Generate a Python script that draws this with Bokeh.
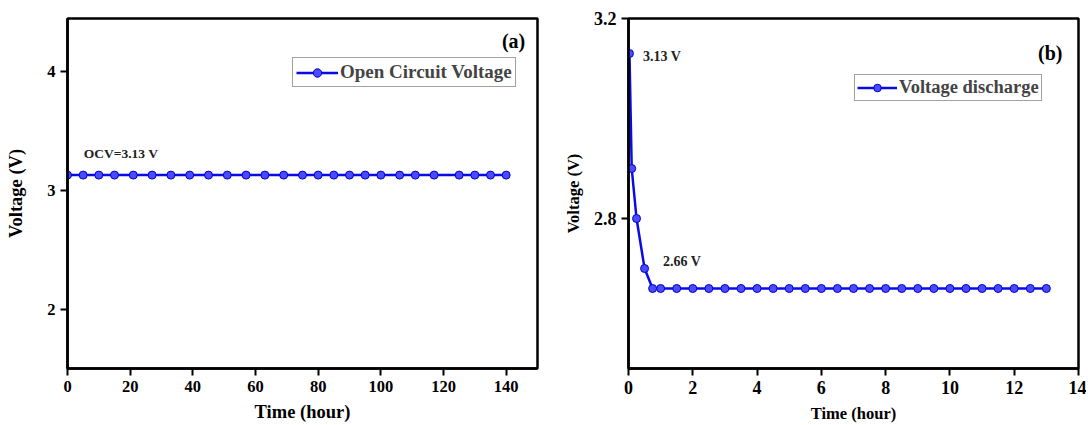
from bokeh.plotting import figure
from bokeh.models import Range1d, FixedTicker, Label, Legend
from bokeh.layouts import row
from bokeh.embed import file_html
from bokeh.resources import INLINE

# ---- data ----
time_a = [0, 5, 10, 15, 21, 27, 33, 39, 45, 51, 57, 63, 69, 75, 80, 85, 90, 95,
          100, 106, 111, 117, 125, 130, 135, 140]
volt_a = [3.13, 3.13, 3.13, 3.13, 3.13, 3.13, 3.13, 3.13, 3.13, 3.13, 3.13, 3.13, 3.13,
          3.13, 3.13, 3.13, 3.13, 3.13, 3.13, 3.13, 3.13, 3.13, 3.13, 3.13, 3.13, 3.13]
ticks_a_x = [0, 20, 40, 60, 80, 100, 120, 140]
ticks_a_y = [2, 3, 4]

time_b = [0.03, 0.1, 0.25, 0.5, 0.75, 1.0, 1.5, 2.0, 2.5, 3.0, 3.5, 4.0, 4.5, 5.0, 5.5,
          6.0, 6.5, 7.0, 7.5, 8.0, 8.5, 9.0, 9.5, 10.0, 10.5, 11.0, 11.5, 12.0, 12.5, 13.0]
volt_b = [3.13, 2.90, 2.80, 2.70, 2.66, 2.66, 2.66, 2.66, 2.66, 2.66, 2.66, 2.66, 2.66,
          2.66, 2.66, 2.66, 2.66, 2.66, 2.66, 2.66, 2.66, 2.66, 2.66, 2.66, 2.66, 2.66,
          2.66, 2.66, 2.66, 2.66]
ticks_b_x = [0, 2, 4, 6, 8, 10, 12, 14]
ticks_b_y = [2.4, 2.8, 3.2]

FONT = "Liberation Serif"
LINE = "#0a0ae6"
FILL = "#4a4aff"


def style(p, xt, yt, tick_fs, lab_fs):
    p.xgrid.grid_line_color = None
    p.ygrid.grid_line_color = None
    p.outline_line_color = "black"
    p.outline_line_width = 2.5
    p.background_fill_color = "white"
    for ax in (p.xaxis[0], p.yaxis[0]):
        ax.axis_line_width = 2.5
        ax.major_tick_line_width = 2
        ax.major_tick_out = 7
        ax.major_tick_in = 0
        ax.minor_tick_line_color = None
        ax.major_label_text_font = FONT
        ax.major_label_text_font_style = "bold"
        ax.major_label_text_font_size = tick_fs
        ax.major_label_text_color = "black"
        ax.axis_label_text_font = FONT
        ax.axis_label_text_font_style = "bold"
        ax.axis_label_text_font_size = lab_fs
        ax.axis_label_text_color = "black"
    p.xaxis[0].ticker = FixedTicker(ticks=xt)
    p.yaxis[0].ticker = FixedTicker(ticks=yt)
    p.xaxis[0].major_label_standoff = 5
    p.yaxis[0].major_label_standoff = 5
    p.xaxis[0].axis_label_standoff = 7


# ---- panel (a) ----
pa = figure(width=560, height=425, output_backend="svg", toolbar_location=None,
            x_range=Range1d(0, 150), y_range=Range1d(1.5, 4.45),
            min_border_left=67, min_border_right=23, min_border_top=17, min_border_bottom=56,
            x_axis_label="Time (hour)", y_axis_label="Voltage (V)")
style(pa, ticks_a_x, ticks_a_y, "16.5px", "18.5px")
pa.yaxis[0].axis_label_standoff = 18
la = pa.line(time_a, volt_a, line_color=LINE, line_width=2.5)
sa = pa.scatter(time_a, volt_a, size=8, fill_color=FILL, line_color="#0000cc", line_width=1)
leg_a = Legend(items=[("Open Circuit Voltage", [la, sa])], location=(225, 281),
               border_line_color="#444444", border_line_width=1,
               label_text_font=FONT, label_text_font_style="bold", label_text_font_size="19px",
               glyph_width=42, glyph_height=21, label_standoff=2, padding=3, spacing=0, margin=0,
               label_height=21)
pa.add_layout(leg_a, "center")
pa.add_layout(Label(x=5.2, y=3.31, text="OCV=3.13 V", text_font=FONT, text_font_style="bold",
                    text_font_size="13.5px", text_baseline="middle", text_color="#222222"))
pa.add_layout(Label(x=146.1, y=4.257, text="(a)", text_font=FONT, text_font_style="bold",
                    text_font_size="20px", text_baseline="middle", text_align="right",
                    text_color="black"))

# ---- panel (b) ----
pb = figure(width=526, height=425, output_backend="svg", toolbar_location=None,
            x_range=Range1d(0, 14), y_range=Range1d(2.5, 3.2),
            min_border_left=63, min_border_right=8, min_border_top=18, min_border_bottom=57,
            x_axis_label="Time (hour)", y_axis_label="Voltage (V)")
style(pb, ticks_b_x, ticks_b_y, "18px", "16.5px")
pb.yaxis[0].axis_label_standoff = 8
lb = pb.line(time_b, volt_b, line_color=LINE, line_width=2.5)
sb = pb.scatter(time_b, volt_b, size=8, fill_color=FILL, line_color="#0000cc", line_width=1)
leg_b = Legend(items=[("Voltage discharge", [lb, sb])], location=(226, 267),
               border_line_color="#444444", border_line_width=1,
               label_text_font=FONT, label_text_font_style="bold", label_text_font_size="18.5px",
               glyph_width=40, glyph_height=19, label_standoff=2, padding=2, spacing=0, margin=0,
               label_height=19)
pb.add_layout(leg_b, "center")
pb.add_layout(Label(x=0.45, y=3.124, text="3.13 V", text_font=FONT, text_font_style="bold",
                    text_font_size="14px", text_baseline="middle", text_color="#222222"))
pb.add_layout(Label(x=1.07, y=2.714, text="2.66 V", text_font=FONT, text_font_style="bold",
                    text_font_size="14px", text_baseline="middle", text_color="#222222"))
pb.add_layout(Label(x=13.5, y=3.132, text="(b)", text_font=FONT, text_font_style="bold",
                    text_font_size="20px", text_baseline="middle", text_align="right",
                    text_color="black"))

layout = row(pa, pb)
open("out.html", "w").write(file_html(layout, INLINE))
